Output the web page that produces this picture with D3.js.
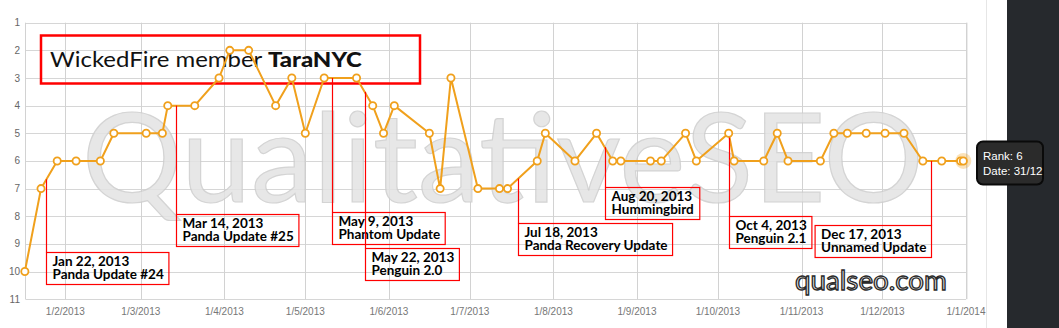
<!DOCTYPE html>
<html>
<head>
<meta charset="utf-8">
<script src="https://cdn.jsdelivr.net/npm/d3@7"></script>
<style>
  body { margin: 0; background: #fff; overflow: hidden; }
  svg { display: block; }
</style>
</head>
<body>
<svg id="chart" width="1059" height="328"></svg>
<script>
// rank history
var dates = ["2013-01-17","2013-01-23","2013-01-29","2013-02-05","2013-02-14","2013-02-19","2013-03-03","2013-03-09",
             "2013-03-11","2013-03-21","2013-03-30","2013-04-03","2013-04-10","2013-04-20","2013-04-26","2013-05-01",
             "2013-05-08","2013-05-20","2013-05-26","2013-05-30","2013-06-03","2013-06-16","2013-06-20","2013-06-24",
             "2013-07-04","2013-07-12","2013-07-15","2013-07-26","2013-07-29","2013-08-09","2013-08-17","2013-08-23",
             "2013-08-26","2013-09-06","2013-09-10","2013-09-19","2013-09-23","2013-10-05","2013-10-07","2013-10-18",
             "2013-10-23","2013-10-27","2013-11-08","2013-11-13","2013-11-18","2013-11-25","2013-12-02","2013-12-09",
             "2013-12-16","2013-12-23","2013-12-30","2013-12-31"];
var ranks = [10,7,6,6,6,5,5,5,4,4,3,2,2,4,3,5,3,3,4,5,4,5,7,3,7,7,7,6,5,6,5,6,6,6,6,5,6,5,6,6,5,6,6,5,5,5,5,5,6,6,6,6];

var rankTicks = [1,2,3,4,5,6,7,8,9,10,11];
var monthTicks = ["2013-02-01","2013-03-01","2013-04-01","2013-05-01","2013-06-01","2013-07-01",
                  "2013-08-01","2013-09-01","2013-10-01","2013-11-01","2013-12-01","2014-01-01"];
var monthLabels = ["1/2/2013","1/3/2013","1/4/2013","1/5/2013","1/6/2013","1/7/2013",
                   "1/8/2013","1/9/2013","1/10/2013","1/11/2013","1/12/2013","1/1/2014"];

// google updates: where the marker line sits, and the two text lines
var noteDates = ["2013-01-25","2013-03-14","2013-05-11","2013-05-23","2013-07-19","2013-08-20","2013-10-05","2013-12-19"];
var noteTitles = ["Jan 22, 2013","Mar 14, 2013","May 9, 2013","May 22, 2013","Jul 18, 2013","Aug 20, 2013","Oct 4, 2013","Dec 17, 2013"];
var noteNames = ["Panda Update #24","Panda Update #25","Phantom Update","Penguin 2.0","Panda Recovery Update","Hummingbird","Penguin 2.1","Unnamed Update"];

// label layout (box top, and which side of the box the marker is on)
var noteTops = [252, 214, 212, 248, 223, 187, 216, 225];
var noteSide = ["left","left","left","left","left","left","left","right"];

var parse = d3.timeParse("%Y-%m-%d");
var data = dates.map(function (d, i) { return { date: parse(d), rank: ranks[i] }; });

var svg = d3.select("#chart");
var plotL = 25.5, plotR = 966, plotT = 22.7, plotB = 299.2;

var xScale = d3.scaleTime()
  .domain([new Date(2013, 0, 1), new Date(2014, 0, 1)])
  .range([-18.3, plotR]);

var yScale = d3.scaleLinear()
  .domain([1, 11])
  .range([plotT, plotB]);

// page bits on the right
svg.append("rect").attr("x", 1007).attr("y", 0).attr("width", 52).attr("height", 328).attr("fill", "#26292d");
svg.append("line").attr("x1", 986.5).attr("x2", 986.5).attr("y1", 0).attr("y2", 328)
  .attr("stroke", "#e6e6e6").attr("stroke-width", 1);

// grid
var grid = svg.append("g");
grid.selectAll(".hgrid")
  .data(rankTicks)
  .enter().append("line")
  .attr("x1", plotL).attr("x2", plotR)
  .attr("y1", d => Math.round(yScale(d)) + 0.5)
  .attr("y2", d => Math.round(yScale(d)) + 0.5)
  .attr("stroke", "#d6d6d6");

grid.selectAll(".vgrid")
  .data(monthTicks)
  .enter().append("line")
  .attr("x1", d => Math.round(xScale(parse(d))) + 0.5)
  .attr("x2", d => Math.round(xScale(parse(d))) + 0.5)
  .attr("y1", plotT).attr("y2", plotB)
  .attr("stroke", "#d2d2d2");

grid.append("line").attr("x1", plotL).attr("x2", plotL).attr("y1", plotT).attr("y2", plotB).attr("stroke", "#d2d2d2");
grid.append("line").attr("x1", plotR + 1.5).attr("x2", plotR + 1.5).attr("y1", plotT).attr("y2", plotB).attr("stroke", "#ececec");

// axis labels
svg.selectAll(".ylab")
  .data(rankTicks)
  .enter().append("text")
  .attr("x", 20)
  .attr("y", d => yScale(d))
  .attr("dy", "0.35em")
  .attr("text-anchor", "end")
  .style("font", "10px 'Liberation Sans', Arial, sans-serif")
  .attr("fill", "#666")
  .text(d => d);

svg.selectAll(".xlab")
  .data(monthTicks)
  .enter().append("text")
  .attr("x", d => xScale(parse(d)))
  .attr("y", 315)
  .attr("text-anchor", "middle")
  .style("font", "10px 'Liberation Sans', Arial, sans-serif")
  .attr("fill", "#777")
  .text((d, i) => monthLabels[i]);

// watermark
function fitText(sel, x0, x1) {
  var w = sel.node().getComputedTextLength();
  var s = (x1 - x0) / w;
  sel.attr("transform", "translate(" + x0 + ",0) scale(" + s + ",1)").attr("x", 0);
}

var mark = svg.append("text")
  .attr("y", 202)
  .style("font-family", "Lato, 'Open Sans', sans-serif")
  .style("font-size", "124px")
  .attr("fill", "#e3e3e3")
  .attr("stroke", "#cdcdcd")
  .attr("stroke-width", 1.2)
  .attr("opacity", 0.85);
mark.append("tspan").style("font-weight", 400).text("Qualitative");
mark.append("tspan").style("font-weight", 400).text("SEO");
fitText(mark, 82, 922);

var site = svg.append("text")
  .attr("y", 290)
  .style("font-family", "Lato, 'Open Sans', sans-serif")
  .style("font-size", "27px")
  .attr("fill", "#e2e2e2")
  .attr("stroke", "#2a2a2a")
  .attr("stroke-width", 1.3)
  .text("qualseo.com");
fitText(site, 795, 947);

// title box
svg.append("rect")
  .attr("x", 41).attr("y", 35.5).attr("width", 379).attr("height", 48)
  .attr("fill", "none").attr("stroke", "#f00").attr("stroke-width", 2.5);

var title = svg.append("text")
  .attr("x", 50).attr("y", 67)
  .style("font-family", "Lato, sans-serif")
  .style("font-size", "21px")
  .attr("fill", "#111");
title.append("tspan").text("WickedFire member ");
title.append("tspan").style("font-weight", "900").text("TaraNYC");
fitText(title, 50, 362);

// the line
svg.append("path")
  .datum(data)
  .attr("fill", "none")
  .attr("stroke", "#f0a01c")
  .attr("stroke-width", 2)
  .attr("stroke-linejoin", "round")
  .attr("d", d3.line()
    .x(d => xScale(d.date))
    .y(d => yScale(d.rank)));

// rank at any date, along the drawn line
var bisect = d3.bisector(d => d.date).left;
function rankAt(date) {
  var i = bisect(data, date);
  if (i <= 0) return data[0].rank;
  if (i >= data.length) return data[data.length - 1].rank;
  var a = data[i - 1], b = data[i];
  var t = (date - a.date) / (b.date - a.date);
  return a.rank + (b.rank - a.rank) * t;
}

// update notes
var notes = svg.append("g");
noteDates.forEach(function (nd, i) {
  var date = parse(nd);
  var x = Math.round(xScale(date)) + 0.5;
  var g = notes.append("g");

  var t = g.append("text")
    .style("font-family", "Lato, sans-serif")
    .style("font-weight", "bold")
    .style("font-size", "13.5px")
    .attr("fill", "#000");
  t.append("tspan").attr("x", 0).attr("y", 0).text(noteTitles[i]);
  t.append("tspan").attr("x", 0).attr("y", 13).text(noteNames[i]);

  var w = t.node().getBBox().width + 11;
  var bx = noteSide[i] == "left" ? x : x - w;
  var by = noteTops[i] + 0.5;

  t.attr("transform", "translate(" + (bx + 6) + "," + (by + 13.5) + ")");

  g.insert("rect", "text")
    .attr("x", bx).attr("y", by)
    .attr("width", w).attr("height", 32)
    .attr("fill", "none")
    .attr("stroke", "#f00")
    .attr("stroke-width", 1.2);

  g.insert("line", "rect")
    .attr("x1", x).attr("x2", x)
    .attr("y1", yScale(rankAt(date)))
    .attr("y2", by)
    .attr("stroke", "#f00")
    .attr("stroke-width", 1.2);
});

// hover halo on the last point
var last = data[data.length - 1];
svg.append("circle")
  .attr("cx", xScale(last.date))
  .attr("cy", yScale(last.rank))
  .attr("r", 8)
  .attr("fill", "#f0a01c")
  .attr("opacity", 0.3);

svg.selectAll(".dot")
  .data(data)
  .enter().append("circle")
  .attr("class", "dot")
  .attr("cx", d => xScale(d.date))
  .attr("cy", d => yScale(d.rank))
  .attr("r", 3.6)
  .attr("fill", "#fff")
  .attr("stroke", "#f0a01c")
  .attr("stroke-width", 1.8);

// tooltip
var tip = svg.append("g");
tip.append("rect")
  .attr("x", 977).attr("y", 141.5).attr("width", 66).attr("height", 43).attr("rx", 6)
  .attr("fill", "#2b2b2b").attr("stroke", "#0a0a0a").attr("stroke-width", 2);
tip.append("text").attr("x", 983).attr("y", 160)
  .style("font", "11.5px 'Liberation Sans', Arial, sans-serif").attr("fill", "#fff")
  .text("Rank: " + last.rank);
tip.append("text").attr("x", 983).attr("y", 175)
  .style("font", "11.5px 'Liberation Sans', Arial, sans-serif").attr("fill", "#fff")
  .text("Date: " + d3.timeFormat("%d/%m")(last.date));
</script>
</body>
</html>
